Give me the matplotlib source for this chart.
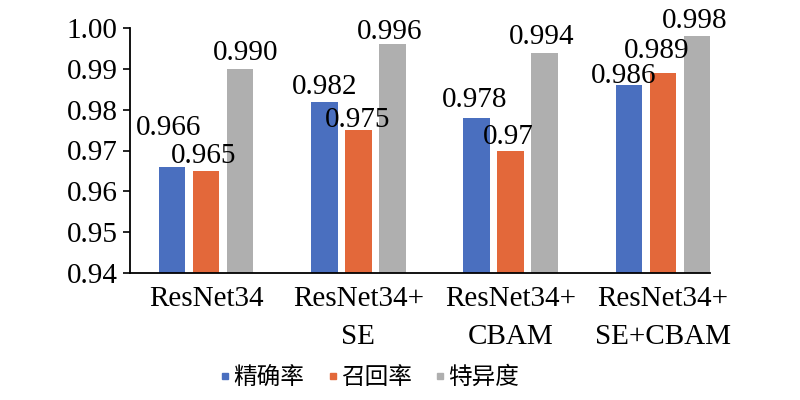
import matplotlib
matplotlib.use("Agg")
from matplotlib import pyplot as plt
from matplotlib.lines import Line2D
import numpy as np

plt.rcParams['font.family'] = ['Liberation Serif', 'Noto Sans CJK SC', 'DejaVu Sans']

# data
models = ["ResNet34", "ResNet34+\nSE", "ResNet34+\nCBAM", "ResNet34+\nSE+CBAM"]
series_names = ["精确率", "召回率", "特异度"]
precision = [0.966, 0.982, 0.978, 0.986]
recall = [0.965, 0.975, 0.970, 0.989]
specificity = [0.990, 0.996, 0.994, 0.998]
label_texts = [
    ["0.966", "0.982", "0.978", "0.986"],
    ["0.965", "0.975", "0.97", "0.989"],
    ["0.990", "0.996", "0.994", "0.998"],
]
colors = ["#4A6FBF", "#E3683A", "#AFAFAF"]

# label nudges in pixels (dx, dy above bar top), hand placed like in the original
nudges = [
    [(-4, 32), (0, 7), (-2, 11), (-5, 2)],
    [(-3, 8), (-1, 3), (-2, 6), (-6, 15)],
    [(6, 9), (-3, 5), (-3, 8), (-2, 8)],
]

fig = plt.figure(figsize=(8, 4), dpi=100)
ax = fig.add_axes([130/800, 1 - 273/400, (739 - 130)/800, (273 - 28)/400])

x = np.arange(len(models))
width = 0.174
step = 0.223
px = 72 / 100  # pixels -> points

for i, vals in enumerate([precision, recall, specificity]):
    pos = x + (i - 1) * step
    ax.bar(pos, vals, width=width, color=colors[i], label=series_names[i], zorder=2)
    for j, v in enumerate(vals):
        dx, dy = nudges[i][j]
        ax.annotate(label_texts[i][j], (pos[j], v), xytext=(dx * px, dy * px),
                    textcoords="offset points", ha="center", va="baseline",
                    fontsize=21)

ax.set_ylim(0.94, 1.00)
ax.set_yticks(np.arange(0.94, 1.0001, 0.01))
ax.set_yticklabels([f"{t:.2f}" for t in np.arange(0.94, 1.0001, 0.01)])
ax.set_xlim(-0.5, 3.5)
ax.set_xticks(x)
ax.set_xticklabels(models, linespacing=1.6)

ax.spines['top'].set_visible(False)
ax.spines['right'].set_visible(False)
ax.spines['left'].set_linewidth(1.3)
ax.spines['bottom'].set_linewidth(1.3)
ax.spines['bottom'].set_bounds(-0.5, 3 + step + width / 2)
ax.tick_params(axis='y', labelsize=21, length=5, width=1.2, pad=4)
ax.tick_params(axis='x', labelsize=21, length=0, pad=9)

handles = [Line2D([], [], marker='s', linestyle='none', markersize=5,
                  color=c) for c in colors]
fig.legend(handles, series_names, loc="center", bbox_to_anchor=(370/800, 1 - 378/400),
           ncol=3, frameon=False, fontsize=17, handlelength=0.4, handletextpad=0.15,
           columnspacing=1.0, borderpad=0)

fig.savefig("out.png", dpi=100)
